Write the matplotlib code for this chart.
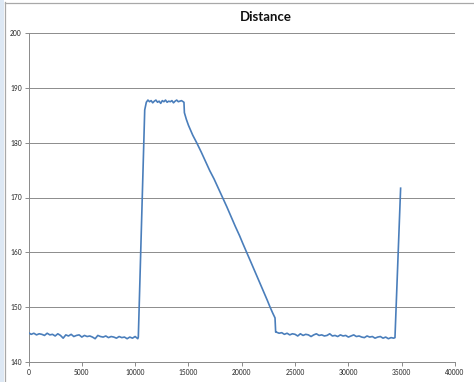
import numpy as np
import matplotlib
matplotlib.use("Agg")
import matplotlib.pyplot as plt
from matplotlib.patches import Rectangle
from matplotlib.lines import Line2D

plt.rcParams['font.family'] = ['Lato', 'DejaVu Sans']

# === Data ===
# flat start, sampled every 250
base1_x = np.arange(0, 10251, 250)
base1_y = [145.3, 145.0, 145.2, 144.9, 145.1, 145.0, 144.8, 145.2, 144.9, 145.0,
           144.7, 145.1, 144.8, 144.3, 144.9, 144.7, 145.0, 144.6, 144.8, 144.9,
           144.5, 144.8, 144.6, 144.7, 144.5, 144.2, 144.8, 144.6, 144.5, 144.7,
           144.4, 144.6, 144.5, 144.3, 144.6, 144.4, 144.5, 144.2, 144.5, 144.3,
           144.6, 144.2]

rise_x = [10300, 10900, 11050]
rise_y = [144.5, 186.0, 187.4]

# plateau, sampled every 150
plat_x = np.arange(11200, 14451, 150)
plat_y = [187.8, 187.5, 187.7, 187.3, 187.6, 187.8, 187.4, 187.6, 187.2, 187.7,
          187.5, 187.8, 187.4, 187.6, 187.5, 187.7, 187.3, 187.6, 187.8, 187.5,
          187.6, 187.7]

fall_x = [14580, 14620, 14800, 15000, 15400, 15775, 16200, 16600, 17000, 17400,
          17800, 18210, 18600, 19000, 19400, 19800, 20100, 20460, 20900, 21300,
          21700, 22100, 22400, 22650, 22900, 23120, 23180]
fall_y = [187.4, 185.5, 184.3, 183.2, 181.4, 180.0, 178.3, 176.6, 174.9, 173.4,
          171.7, 170.0, 168.3, 166.5, 164.7, 163.0, 161.6, 160.0, 158.0, 156.2,
          154.4, 152.6, 151.2, 150.0, 148.9, 148.0, 145.4]

# flat end, sampled every 250
base2_x = np.arange(23250, 34251, 250)
base2_y = [145.4, 145.2, 145.3, 145.0, 145.2, 144.9, 145.1, 145.0, 144.7, 145.1,
           144.8, 145.0, 144.9, 144.6, 144.9, 145.1, 144.8, 144.9, 144.7, 144.8,
           145.1, 144.7, 144.8, 144.6, 144.9, 144.7, 144.8, 144.5, 144.7, 144.9,
           144.6, 144.7, 144.5, 144.4, 144.7, 144.5, 144.6, 144.3, 144.5, 144.6,
           144.3, 144.5, 144.2, 144.4, 144.3]

spike_x = [34370, 34900]
spike_y = [144.4, 171.7]

x = np.concatenate([base1_x, rise_x, plat_x, fall_x, base2_x, spike_x])
y = np.concatenate([base1_y, rise_y, plat_y, fall_y, base2_y, spike_y])

xticks = list(range(0, 40001, 5000))
yticks = list(range(140, 201, 10))

# === Figure ===
W, H = 474, 382
fig = plt.figure(figsize=(W / 100, H / 100), dpi=100)

# window frame bits
fig.patches.append(Rectangle((0, 0), 4 / W, 1, transform=fig.transFigure,
                             facecolor='#dde8f4', edgecolor='none'))
fig.lines.append(Line2D([4.5 / W, 4.5 / W], [0, 1 - 2 / H], transform=fig.transFigure,
                        color='#a8a8a8', lw=0.9))
fig.lines.append(Line2D([4.5 / W, 1], [1 - 2.5 / H, 1 - 2.5 / H], transform=fig.transFigure,
                        color='#a8a8a8', lw=0.9))

ax = fig.add_axes([28.5 / W, 1 - 361.7 / H, (455 - 28.5) / W, (361.7 - 33.3) / H])
ax.plot(x, y, color='#4a7ebb', lw=1.2, zorder=3)

ax.set_xlim(0, 40000)
ax.set_ylim(140, 200)
ax.set_xticks(xticks)
ax.set_yticks(yticks)
ax.tick_params(labelsize=4.8, colors='#8a8a8a', length=3, width=0.7, labelcolor='#222222', pad=2)
ax.grid(axis='y', color='#8c8c8c', lw=0.7)
ax.set_axisbelow(True)
for s in ['top', 'right']:
    ax.spines[s].set_visible(False)
for s in ['left', 'bottom']:
    ax.spines[s].set_color('#8a8a8a')
    ax.spines[s].set_linewidth(0.7)

fig.text(266 / W, 1 - 17 / H, 'Distance', ha='center', va='center',
         fontsize=9.5, fontweight='bold', color='#111111')

fig.savefig('out.png', dpi=100)
